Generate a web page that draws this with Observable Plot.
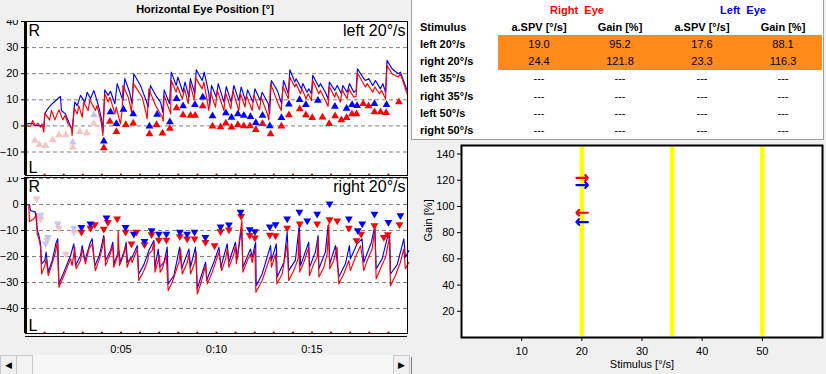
<!DOCTYPE html>
<html><head><meta charset="utf-8">
<script src="https://cdn.jsdelivr.net/npm/d3@7"></script>
<script src="https://cdn.jsdelivr.net/npm/@observablehq/plot@0.6"></script>
<style>
body{margin:0;background:#f0f0f0;width:826px;height:374px;overflow:hidden;position:relative;font-family:"Liberation Sans",Arial,sans-serif;}
.abs{position:absolute;}
.plotbox svg{display:block;}
</style></head><body>
<script>
// ---------------- DATA ----------------
const chartTitle = "Horizontal Eye Position [°]";
const conditions = ["left 20°/s", "right 20°/s"];
const sideLabels = ["R", "L"];
const timeTicks = [5, 10, 15];
const secondMarks = [1,2,3,4,5,6,7,8,9,10,11,12,13,14,15,16,17,18,19];
const topYTicks = [-10, 0, 10, 20, 30, 40];
const bottomYTicks = [-40, -30, -20, -10, 0, 10];

// top panel (left 20°/s): [time s, position °]
const topRed = [[0,0.1],[0.26,-0.1],[0.38,2.1],[0.52,0.1],[0.66,1.0],[0.79,-0.5],[0.87,0.8],[0.96,-2.4],[1.01,5.0],[1.26,2.3],[1.36,5.9],[1.54,2.3],[1.66,4.6],[1.75,6.2],[1.95,2.3],[2.06,4.0],[2.23,0.8],[2.41,-0.5],[2.44,-3.7],[2.55,6.8],[2.71,4.6],[2.79,7.8],[2.97,3.3],[3.05,9.1],[3.28,5.9],[3.37,10.0],[3.66,5.9],[3.75,7.8],[3.98,0.8],[4.05,-3.7],[4.15,12.3],[4.33,9.1],[4.42,11.0],[4.68,4.6],[4.75,7.2],[4.97,0.8],[5.06,5.9],[5.10,15.5],[5.38,11.0],[5.55,5.3],[5.64,16.4],[6.11,11.0],[6.28,5.9],[6.37,2.7],[6.46,14.2],[6.81,7.8],[7.16,3.3],[7.21,1.8],[7.26,11.7],[7.60,4.6],[7.63,17.4],[7.89,12.9],[7.96,15.1],[8.21,10.4],[8.33,14.2],[8.52,8.5],[8.61,16.4],[8.83,10.0],[8.90,18.5],[9.25,14.2],[9.34,16.8],[9.60,5.9],[9.69,12.9],[9.95,7.2],[10.04,13.6],[10.39,5.9],[10.48,12.6],[10.75,6.5],[10.86,13.3],[11.17,5.9],[11.26,12.3],[11.49,7.2],[11.57,11.7],[11.87,5.9],[11.96,11.7],[12.25,6.2],[12.34,11.0],[12.66,4.6],[12.74,2.3],[12.83,16.2],[13.23,8.5],[13.39,5.9],[13.48,15.1],[13.76,10.4],[13.84,18.7],[14.10,14.9],[14.17,16.2],[14.40,12.3],[14.48,14.2],[14.69,10.4],[14.80,12.3],[14.97,9.7],[15.04,17.4],[15.36,12.3],[15.44,13.6],[15.70,9.7],[15.84,7.4],[15.91,15.1],[16.19,11.0],[16.26,12.9],[16.49,9.1],[16.58,13.8],[16.84,10.4],[16.93,14.2],[17.19,11.0],[17.31,11.3],[17.38,20.3],[17.80,14.9],[17.89,16.2],[18.18,12.9],[18.29,14.9],[18.53,12.3],[18.64,13.6],[18.85,10.4],[18.93,23.2],[19.19,20.0],[19.51,18.7],[19.63,20.0],[19.98,12.3]];
const topBlue = [[0,0.8],[0.35,1.0],[0.52,0.1],[0.79,0.1],[0.96,-0.3],[1.01,4.6],[1.13,6.2],[1.40,8.5],[1.75,10.8],[1.83,11.3],[1.88,5.9],[2.09,4.6],[2.27,1.4],[2.44,-1.8],[2.58,9.1],[2.71,7.8],[2.88,11.7],[3.11,9.1],[3.23,12.9],[3.40,10.4],[3.58,13.6],[3.84,7.2],[3.98,2.7],[4.05,-2.4],[4.15,13.8],[4.33,11.7],[4.45,13.3],[4.68,8.5],[4.80,16.2],[5.10,9.7],[5.20,18.1],[5.45,12.9],[5.58,8.5],[5.67,20.0],[6.02,15.5],[6.32,9.7],[6.42,7.2],[6.54,15.5],[6.85,11.3],[7.07,9.1],[7.19,5.3],[7.26,13.8],[7.54,8.5],[7.63,20.6],[7.89,15.5],[7.98,18.7],[8.24,12.9],[8.35,16.8],[8.56,11.0],[8.63,18.1],[8.87,12.3],[8.94,21.5],[9.25,17.4],[9.36,20.6],[9.60,12.3],[9.65,7.8],[9.74,15.5],[9.99,11.0],[10.09,16.2],[10.39,9.1],[10.51,15.1],[10.77,9.1],[10.91,15.5],[11.17,9.7],[11.29,14.9],[11.52,9.7],[11.63,13.8],[11.91,9.1],[12.01,14.2],[12.29,9.7],[12.39,12.9],[12.71,8.5],[12.78,4.6],[12.87,17.4],[13.18,13.6],[13.41,8.5],[13.51,17.4],[13.76,12.3],[13.84,21.5],[14.10,16.8],[14.17,18.1],[14.45,14.2],[14.52,16.2],[14.74,12.9],[14.83,14.2],[14.97,12.3],[15.04,19.4],[15.36,14.9],[15.44,16.2],[15.70,12.9],[15.84,10.4],[15.91,16.8],[16.19,13.6],[16.32,15.5],[16.54,12.3],[16.61,15.5],[16.84,12.9],[16.96,16.2],[17.19,12.9],[17.31,13.6],[17.38,21.9],[17.71,18.1],[17.80,17.4],[17.97,18.1],[18.18,15.5],[18.32,17.4],[18.58,14.2],[18.71,16.2],[18.85,12.9],[18.93,25.1],[19.19,21.9],[19.51,20.0],[19.63,20.6],[19.98,13.6]];
const topRedMarks = [[4.10,-8.5],[4.42,1.7],[4.76,-2.2],[5.25,0.4],[5.64,1.0],[6.49,-3.1],[6.86,0.4],[7.17,-2.8],[7.56,-1.0],[7.91,6.9],[8.25,4.2],[8.64,4.0],[8.88,4.0],[9.28,7.6],[9.79,-0.1],[10.21,-0.4],[10.49,1.0],[10.79,-0.5],[11.12,0.4],[11.43,0],[11.75,0],[12.06,-1.5],[12.41,0.8],[12.83,-3.1],[13.40,-0.1],[13.79,4.2],[14.36,6.5],[14.68,4.2],[15.01,3.1],[15.55,3.3],[15.90,0.8],[16.21,3.8],[16.54,2.3],[16.81,3.1],[17.09,4.6],[17.33,4.6],[17.68,8.5],[17.96,7.6],[18.27,5.3],[18.59,5.3],[18.88,5.0],[19.55,9.2]];
const topBlueMarks = [[4.10,-5.9],[4.45,5.3],[4.76,0.8],[5.13,6.3],[5.64,4.6],[6.49,-0.1],[6.89,4.4],[7.56,1.5],[7.91,10.4],[8.25,7.6],[8.87,8.1],[9.28,11.0],[9.79,3.8],[10.49,4.9],[10.79,3.2],[11.12,4.6],[11.43,4.0],[11.78,3.5],[12.06,1.2],[12.41,4.0],[12.79,0],[13.40,3.1],[13.79,8.3],[14.35,10.0],[14.68,8.1],[15.31,9.7],[16.20,7.4],[16.81,6.7],[17.10,8.1],[17.36,7.7],[18.27,8.5],[18.90,8.1]];
const topPinkMarks = [[0.49,-5.6],[0.73,-7.2],[1.05,-7.6],[1.43,-5.4],[1.75,-3.5],[2.11,-3.5],[2.48,-8.2],[2.84,-2.2],[3.21,-2.7],[3.58,0.8]];
const topLavenderMarks = [[2.48,-6.3],[3.58,4.2]];

// bottom panel (right 20°/s)
const bottomRed = [[0,0],[0.17,-0.1],[0.21,-6.5],[0.44,-5.5],[0.58,-3.6],[0.61,-11.3],[0.70,-13.2],[0.79,-16.4],[0.84,-26.7],[1.01,-23.5],[1.08,-20.9],[1.19,-27.3],[1.36,-23.5],[1.57,-18.3],[1.66,-14.5],[1.75,-31.8],[2.01,-27.3],[2.36,-20.9],[2.44,-23.5],[2.58,-16.4],[2.65,-24.7],[2.88,-21.5],[2.97,-17.1],[3.14,-22.8],[3.32,-17.1],[3.49,-15.1],[3.66,-25.4],[3.87,-20.9],[4.05,-15.8],[4.12,-12.6],[4.19,-23.5],[4.40,-19.6],[4.57,-15.8],[4.62,-24.1],[4.83,-19.6],[4.85,-10.0],[4.92,-23.5],[5.15,-19.0],[5.24,-15.8],[5.32,-24.1],[5.50,-20.3],[5.58,-22.3],[5.85,-17.1],[5.93,-29.2],[6.20,-25.4],[6.37,-22.2],[6.46,-19.0],[6.63,-17.7],[6.72,-14.5],[6.78,-26.0],[7.02,-19.6],[7.05,-26.0],[7.16,-24.7],[7.37,-19.6],[7.47,-33.1],[7.68,-29.9],[8.03,-22.2],[8.12,-17.1],[8.21,-26.7],[8.47,-22.2],[8.56,-19.0],[8.64,-26.7],[8.87,-22.2],[8.94,-18.3],[8.99,-34.4],[9.17,-30.5],[9.43,-23.5],[9.52,-30.5],[9.78,-26.0],[10.13,-18.3],[10.27,-25.4],[10.48,-20.9],[10.56,-17.1],[10.65,-24.1],[10.91,-19.0],[10.99,-15.8],[11.04,-22.8],[11.33,-6.2],[11.38,-26.0],[11.61,-21.5],[11.78,-19.0],[11.87,-22.3],[12.01,-17.1],[12.06,-33.7],[12.39,-29.2],[12.83,-19.6],[12.88,-24.1],[13.09,-19.0],[13.16,-30.5],[13.44,-26.7],[13.70,-15.0],[13.78,-29.2],[14.05,-25.4],[14.27,-20.9],[14.31,-10.6],[14.36,-26.0],[14.57,-22.2],[14.83,-16.5],[14.87,-27.3],[15.09,-22.8],[15.27,-20.3],[15.32,-13.2],[15.36,-27.9],[15.62,-24.1],[15.79,-19.0],[15.88,-7.4],[15.93,-24.7],[16.14,-21.5],[16.31,-16.4],[16.40,-30.5],[16.66,-26.7],[16.93,-21.5],[17.01,-25.4],[17.27,-20.3],[17.54,-15.8],[17.62,-19.6],[17.71,-25.4],[17.89,-21.5],[18.15,-17.1],[18.29,-9.4],[18.36,-28.6],[18.58,-24.7],[18.85,-20.3],[19.05,-12.8],[19.11,-31.2],[19.37,-27.3],[19.63,-22.2],[19.81,-17.1],[19.89,-24.7],[20.07,-22.2]];
const bottomBlue = [[0,0],[0.21,0],[0.26,-2.3],[0.52,-2.9],[0.61,-9.4],[0.70,-11.9],[0.79,-15.1],[0.84,-22.8],[1.01,-21.5],[1.08,-18.3],[1.19,-26.0],[1.40,-21.5],[1.61,-14.5],[1.69,-13.2],[1.75,-30.5],[2.01,-26.0],[2.36,-19.6],[2.53,-15.1],[2.62,-23.5],[2.88,-19.6],[2.97,-15.8],[3.11,-21.5],[3.40,-14.5],[3.49,-13.2],[3.63,-23.5],[3.87,-19.6],[4.10,-11.9],[4.19,-21.5],[4.45,-17.7],[4.57,-14.5],[4.64,-22.8],[4.89,-17.7],[4.97,-22.2],[5.20,-17.1],[5.27,-14.5],[5.34,-22.2],[5.58,-20.3],[5.85,-15.8],[5.93,-26.7],[6.20,-23.1],[6.46,-17.7],[6.72,-13.8],[6.78,-24.1],[6.95,-17.1],[7.02,-24.1],[7.25,-22.2],[7.42,-16.4],[7.47,-30.5],[7.77,-27.3],[8.07,-16.4],[8.17,-24.7],[8.56,-17.1],[8.64,-24.1],[8.90,-16.4],[8.99,-32.4],[9.43,-22.2],[9.48,-29.2],[9.86,-22.2],[10.13,-16.4],[10.23,-24.1],[10.56,-15.1],[10.65,-22.2],[10.99,-14.5],[11.09,-20.9],[11.31,-8.7],[11.38,-24.1],[11.78,-17.1],[11.87,-20.3],[12.05,-14.5],[12.08,-31.2],[12.39,-26.7],[12.83,-15.8],[12.88,-21.5],[13.13,-15.1],[13.18,-27.9],[13.53,-22.2],[13.70,-10.6],[13.78,-25.4],[14.13,-21.5],[14.34,-7.4],[14.40,-23.5],[14.83,-14.5],[14.87,-24.1],[15.18,-18.3],[15.32,-11.9],[15.36,-24.7],[15.70,-18.3],[15.84,-8.1],[15.93,-22.8],[16.23,-15.8],[16.40,-27.9],[16.75,-22.8],[16.96,-15.8],[17.01,-20.9],[17.36,-15.1],[17.62,-13.2],[17.71,-22.2],[18.11,-14.5],[18.29,-8.1],[18.36,-24.7],[18.67,-20.9],[18.93,-13.2],[19.07,-12.0],[19.11,-26.7],[19.46,-23.1],[19.81,-13.2],[19.89,-20.3],[20.07,-17.7]];
const bottomRedMarks = [[2.93,-10.6],[3.40,-9.0],[3.63,-7.7],[4.10,-9.4],[4.31,-6.8],[4.80,-5.5],[5.24,-10.6],[5.55,-15.1],[5.81,-10.6],[6.23,-15.4],[6.60,-11.5],[6.98,-13.6],[7.38,-13.6],[8.08,-12.3],[8.46,-13.2],[8.85,-13.2],[9.42,-14.5],[9.90,-15.8],[10.21,-10.4],[10.65,-9.7],[11.29,-4.5],[11.74,-11.8],[12.01,-12.8],[12.79,-11.7],[13.09,-11.9],[13.70,-9.0],[14.36,-7.4],[15.27,-7.4],[15.92,-5.8],[16.32,-6.2],[16.93,-9.0],[17.33,-13.8],[17.57,-11.3],[18.27,-8.1],[18.76,-12.6],[18.97,-11.5],[19.58,-7.7]];
const bottomBlueMarks = [[2.93,-8.7],[3.40,-7.4],[4.24,-5.1],[5.24,-8.7],[5.67,-11.3],[6.23,-14.1],[6.60,-10.0],[6.98,-11.3],[7.38,-11.3],[8.08,-10.6],[8.46,-11.3],[8.85,-10.6],[9.42,-12.6],[10.21,-8.5],[10.65,-7.8],[11.26,-2.9],[11.74,-9.6],[12.01,-10.4],[12.79,-8.5],[13.09,-7.7],[13.70,-5.5],[14.34,-2.9],[14.75,-6.2],[15.27,-3.6],[15.92,0.3],[16.93,-5.5],[17.40,-10.0],[17.63,-7.4],[18.27,-3.6],[19.00,-6.8],[19.63,-4.2]];
const bottomPinkMarks = [[0.58,2.2],[0.79,-5.5],[1.13,-13.6],[1.75,-9.0],[2.11,-19.0],[2.53,-10.6]];
const bottomLavenderMarks = [[0.79,-4.0],[1.05,-15.1],[1.17,-12.6],[1.69,-7.4],[2.53,-9.0]];

// results table
const eyeHeaders = ["Right  Eye", "Left  Eye"];
const columnHeaders = ["Stimulus", "a.SPV [°/s]", "Gain [%]", "a.SPV [°/s]", "Gain [%]"];
const stimLabels = ["left 20°/s", "right 20°/s", "left 35°/s", "right 35°/s", "left 50°/s", "right 50°/s"];
const stimSpeed = [20, 20, 35, 35, 50, 50];
const stimDir = ["left", "right", "left", "right", "left", "right"];
const rightSPV = [19.0, 24.4, null, null, null, null];
const rightGain = [95.2, 121.8, null, null, null, null];
const leftSPV = [17.6, 23.3, null, null, null, null];
const leftGain = [88.1, 116.3, null, null, null, null];
const gainTicks = [20, 40, 60, 80, 100, 120, 140];
const stimTicks = [10, 20, 30, 40, 50];
const gainAxisLabel = "Gain [%]";
const stimAxisLabel = "Stimulus [°/s]";

// ---------------- STYLE ----------------
const FONT = '"Liberation Sans", Arial, sans-serif';
const RED = "#ff0000", BLUE = "#0000ff", PINK = "#f6c4c4", LAV = "#c6c6f4";
const ORANGE = "#ff8a1c";

function place(node, left, top, z) {
  const d = document.createElement("div");
  d.className = "abs plotbox";
  d.style.left = left + "px"; d.style.top = top + "px";
  if (z) d.style.zIndex = z;
  d.appendChild(node);
  document.body.appendChild(d);
  return d;
}

function eyePanel(o) {
  const xy = {x: d => d[0], y: d => d[1]};
  const tri = (data, fill) => Plot.dot(data, {...xy, symbol: "triangle", r: 2.9, fill, stroke: "none", rotate: o.down ? 180 : 0});
  const marks = [
    Plot.frame({fill: "white", stroke: null}),
    Plot.gridY(o.yTicks, {stroke: "#808080", strokeOpacity: 1, strokeDasharray: "4,3"}),
    tri(o.pink, PINK), tri(o.lav, LAV),
    Plot.line(o.blue, {...xy, stroke: BLUE, strokeWidth: 1.15}),
    Plot.line(o.red, {...xy, stroke: RED, strokeWidth: 1.15}),
    tri(o.redMarks, RED), tri(o.blueMarks, BLUE),
    Plot.dot(secondMarks, {x: d => d, frameAnchor: "bottom", r: 1.1, fill: "#d00000", dy: -1}),
    Plot.frame({stroke: "black", strokeWidth: 1}),
    Plot.ruleX([0], {stroke: "black", strokeWidth: 3}),
    Plot.axisY(o.yTicks, {tickSize: 4, tickPadding: 3, fontSize: 11, stroke: "black", label: null}),
    Plot.text([sideLabels[0]], {frameAnchor: "top-left", dx: 3, dy: 3, lineAnchor: "top", textAnchor: "start", fontSize: 16}),
    Plot.text([sideLabels[1]], {frameAnchor: "bottom-left", dx: 3, dy: -3, lineAnchor: "bottom", textAnchor: "start", fontSize: 16}),
    Plot.text([o.label], {frameAnchor: "top-right", dx: -2, dy: 3, lineAnchor: "top", textAnchor: "end", fontSize: 16})
  ];
  if (o.xAxis) {
    marks.push(Plot.ruleY([o.yDomain[0]], {stroke: "black", dy: 3}));
    marks.push(Plot.axisX(timeTicks, {tickSize: 0, tickPadding: 12, fontSize: 11, label: null, tickFormat: d => "0:" + String(d).padStart(2, "0")}));
  }
  return Plot.plot({
    width: 410, height: o.height,
    marginLeft: 25, marginRight: 3, marginTop: o.mt, marginBottom: o.mb,
    x: {domain: [0, 20], axis: null},
    y: {domain: o.yDomain, axis: null},
    style: {background: o.bg, overflow: "hidden", fontFamily: FONT, fontSize: "11px", color: "#000"},
    marks
  });
}

// bottom panel first (so top panel overlaps its cut label)
place(eyePanel({red: bottomRed, blue: bottomBlue, redMarks: bottomRedMarks, blueMarks: bottomBlueMarks, pink: bottomPinkMarks, lav: bottomLavenderMarks,
  yDomain: [-49.6, 10.4], yTicks: bottomYTicks, label: conditions[1], down: true, height: 180, mt: 1, mb: 23, xAxis: true, bg: "#f0f0f0"}), 0, 176, 1);
place(eyePanel({red: topRed, blue: topBlue, redMarks: topRedMarks, blueMarks: topBlueMarks, pink: topPinkMarks, lav: topLavenderMarks,
  yDomain: [-19, 40], yTicks: topYTicks, label: conditions[0], down: false, height: 157, mt: 1, mb: 2, xAxis: false, bg: "#f0f0f0"}), 0, 20, 2);

// title
const t = document.createElement("div");
t.className = "abs";
Object.assign(t.style, {left: "0px", top: "0px", width: "410px", height: "20px", lineHeight: "18px", textAlign: "center", fontWeight: "bold", fontSize: "11px", background: "#f0f0f0", zIndex: 3});
t.textContent = chartTitle;
document.body.appendChild(t);

// scrollbar
function box(css, text) {
  const d = document.createElement("div");
  d.className = "abs";
  Object.assign(d.style, css);
  if (text) d.textContent = text;
  document.body.appendChild(d);
  return d;
}
box({left: "0px", top: "355px", width: "409px", height: "19px", background: "#f6f6f6", zIndex: 4});
box({left: "0px", top: "355px", width: "15px", height: "18px", background: "#f0f0f0", border: "1px solid #c8c8c8", fontSize: "9px", lineHeight: "18px", textAlign: "center", zIndex: 5}, "◀");
box({left: "16px", top: "355px", width: "15px", height: "18px", background: "#f3f3f3", border: "1px solid #c8c8c8", zIndex: 5});
box({left: "393px", top: "355px", width: "15px", height: "18px", background: "#f0f0f0", border: "1px solid #c8c8c8", fontSize: "9px", lineHeight: "18px", textAlign: "center", zIndex: 5}, "▶");
box({left: "411px", top: "357px", width: "1px", height: "17px", background: "#808080"});

// table
box({left: "411px", top: "-1px", width: "411px", height: "139px", background: "white", border: "1px solid #a0a0a0"});
const rowH = 17.3, firstRowY = 43.6;
box({left: "498px", top: (firstRowY - rowH / 2) + "px", width: "324px", height: (rowH * 2) + "px", background: ORANGE});
const colCenters = [539, 620, 702, 783];
function cellText(text, cx, cy, opts) {
  const w = 120;
  box(Object.assign({left: (opts.anchor === "start" ? cx : cx - w / 2) + "px", top: (cy - 8) + "px", width: (opts.anchor === "start" ? 90 : w) + "px", height: "16px", lineHeight: "16px",
    textAlign: opts.anchor === "start" ? "left" : "center", fontSize: "11px", fontWeight: opts.bold ? "bold" : "normal", color: opts.color || "#000", whiteSpace: "pre"}), text);
}
cellText(eyeHeaders[0], 577, 9.5, {bold: true, color: RED});
cellText(eyeHeaders[1], 743, 9.5, {bold: true, color: BLUE});
cellText(columnHeaders[0], 420, 27, {bold: true, anchor: "start"});
columnHeaders.slice(1).forEach((h, i) => cellText(h, colCenters[i], 27, {bold: true}));
const fmt = v => v == null ? "---" : v.toFixed(1);
stimLabels.forEach((s, r) => {
  const cy = firstRowY + r * rowH;
  cellText(s, 420, cy, {bold: true, anchor: "start"});
  [rightSPV[r], rightGain[r], leftSPV[r], leftGain[r]].forEach((v, i) => cellText(fmt(v), colCenters[i], cy, {}));
});

// gain chart
const gainPoints = [];
stimLabels.forEach((s, i) => {
  if (rightGain[i] != null) gainPoints.push({speed: stimSpeed[i], dir: stimDir[i], eye: "right", gain: rightGain[i]});
  if (leftGain[i] != null) gainPoints.push({speed: stimSpeed[i], dir: stimDir[i], eye: "left", gain: leftGain[i]});
});
const speeds = Array.from(new Set(stimSpeed));
const gainChart = Plot.plot({
  width: 416, height: 234,
  marginLeft: 51, marginRight: 4, marginTop: 5, marginBottom: 37,
  x: {domain: [0, 60], axis: null, label: null},
  y: {domain: [0, 146.5], axis: null, label: null},
  style: {background: "transparent", fontFamily: FONT, fontSize: "11px", color: "#000"},
  marks: [
    Plot.frame({fill: "white", stroke: null}),
    Plot.ruleX(speeds, {stroke: "#ffff00", strokeWidth: 4.5, strokeLinecap: "round", insetTop: 3, insetBottom: 3}),
    Plot.arrow(gainPoints, {
      x1: d => d.dir === "right" ? d.speed - 0.9 : d.speed + 1.0,
      x2: d => d.dir === "right" ? d.speed + 1.0 : d.speed - 0.9,
      y1: d => d.gain, y2: d => d.gain,
      stroke: d => d.eye === "right" ? RED : BLUE,
      strokeWidth: 2.2, headLength: 8.5, headAngle: 95, insetStart: 0, insetEnd: 0
    }),
    Plot.frame({stroke: "black", strokeWidth: 2}),
    Plot.axisY(gainTicks, {tickSize: 4, tickPadding: 3, fontSize: 11, stroke: "black", label: null}),
    Plot.axisX(stimTicks, {tickSize: 4, tickPadding: 6, fontSize: 11, stroke: "black", label: null}),
    Plot.text([gainAxisLabel], {frameAnchor: "left", rotate: -90, dx: -33, fontSize: 11}),
    Plot.text([stimAxisLabel], {frameAnchor: "bottom", dy: 30, fontSize: 11})
  ]
});
place(gainChart, 410, 140, 1);
</script>
</body></html>
